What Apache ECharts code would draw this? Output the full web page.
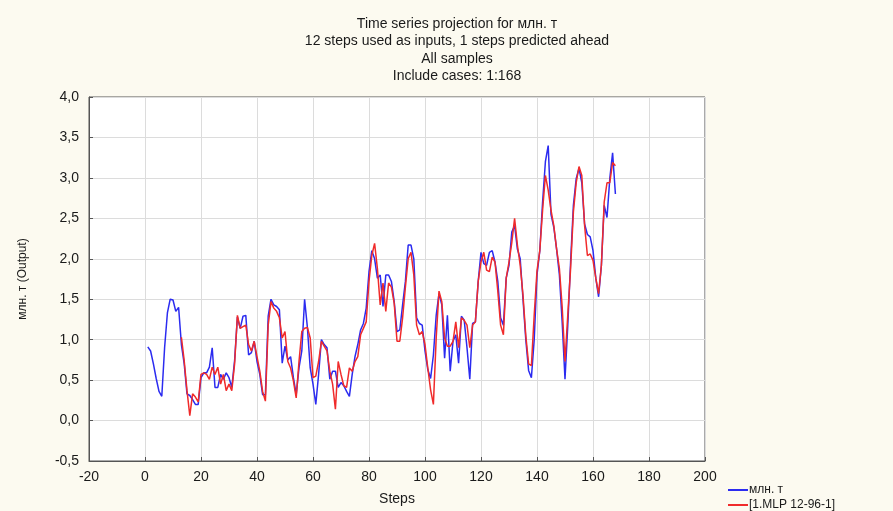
<!DOCTYPE html>
<html>
<head>
<meta charset="utf-8">
<script src="https://cdn.jsdelivr.net/npm/echarts@6/dist/echarts.min.js"></script>
<style>
html, body { margin: 0; padding: 0; background: #fcfaf0; }
#chart { width: 893px; height: 511px; }
</style>
</head>
<body>
<div id="chart"></div>
<script>
// фактические значения (шаги 1..168)
var actualStart = 1;
var actual = [
  0.91, 0.86, 0.70, 0.52, 0.36, 0.30, 0.90, 1.33, 1.50, 1.49,
  1.35, 1.40, 0.94, 0.70, 0.33, 0.31, 0.26, 0.20, 0.20, 0.53,
  0.59, 0.59, 0.66, 0.90, 0.41, 0.41, 0.57, 0.51, 0.59, 0.53,
  0.41, 0.74, 1.28, 1.14, 1.29, 1.30, 0.81, 0.84, 0.98, 0.73,
  0.57, 0.32, 0.32, 1.29, 1.50, 1.43, 1.41, 1.37, 0.71, 0.92,
  0.75, 0.79, 0.53, 0.32, 0.65, 0.86, 1.50, 1.15, 0.65, 0.45,
  0.20, 0.57, 1.00, 0.94, 0.90, 0.51, 0.61, 0.61, 0.41, 0.47,
  0.43, 0.36, 0.30, 0.57, 0.79, 0.94, 1.12, 1.20, 1.39, 1.84,
  2.10, 2.00, 1.76, 1.80, 1.41, 1.80, 1.80, 1.72, 1.47, 1.10,
  1.12, 1.43, 1.72, 2.17, 2.17, 2.00, 1.27, 1.20, 1.18, 0.86,
  0.63, 0.52, 0.81, 1.30, 1.57, 1.43, 0.77, 1.30, 0.61, 0.98,
  1.06, 0.71, 1.29, 1.24, 0.90, 0.51, 1.20, 1.22, 1.72, 2.08,
  1.94, 1.92, 2.08, 2.10, 1.96, 1.72, 1.27, 1.18, 1.76, 1.92,
  2.33, 2.41, 2.12, 2.00, 1.50, 1.00, 0.62, 0.53, 1.00, 1.80,
  2.10, 2.70, 3.20, 3.40, 2.55, 2.39, 2.12, 1.80, 1.21, 0.51,
  1.18, 1.96, 2.66, 2.99, 3.12, 2.94, 2.43, 2.30, 2.27, 2.10,
  1.76, 1.53, 1.92, 2.66, 2.51, 2.99, 3.31, 2.80
];
// прогноз сети (шаги 13..168)
var predStart = 13;
var predicted = [
  1.03, 0.74, 0.37, 0.06, 0.33, 0.29, 0.23, 0.57,
  0.59, 0.57, 0.51, 0.66, 0.57, 0.66, 0.45, 0.57, 0.37, 0.45,
  0.37, 0.70, 1.30, 1.14, 1.16, 1.18, 0.94, 0.86, 0.98, 0.79,
  0.61, 0.36, 0.24, 1.18, 1.47, 1.39, 1.35, 1.27, 1.02, 1.10,
  0.73, 0.65, 0.49, 0.28, 0.73, 1.10, 1.14, 1.15, 1.02, 0.53,
  0.55, 0.73, 0.98, 0.92, 0.86, 0.61, 0.45, 0.14, 0.73, 0.57,
  0.43, 0.41, 0.65, 0.61, 0.73, 0.79, 1.06, 1.14, 1.22, 1.72,
  2.04, 2.19, 1.88, 1.43, 1.70, 1.35, 1.70, 1.65, 1.45, 0.98,
  0.98, 1.27, 1.65, 2.00, 2.08, 1.80, 1.18, 1.06, 1.10, 0.94,
  0.65, 0.38, 0.20, 1.02, 1.60, 1.47, 1.02, 0.92, 0.92, 0.98,
  1.22, 0.90, 1.27, 1.24, 1.18, 0.90, 1.18, 1.22, 1.72, 1.96,
  2.08, 1.86, 1.84, 2.02, 1.96, 1.60, 1.18, 1.06, 1.76, 1.96,
  2.20, 2.50, 2.17, 1.92, 1.55, 1.05, 0.70, 0.68, 1.30, 1.85,
  2.10, 2.60, 3.03, 2.85, 2.60, 2.41, 2.12, 1.88, 1.40, 0.73,
  1.31, 1.88, 2.58, 2.94, 3.14, 3.03, 2.41, 2.04, 2.06, 1.98,
  1.76, 1.57, 1.92, 2.70, 2.94, 2.94, 3.19, 3.15
];
var seriesNames = ['млн. т', '[1.MLP 12-96-1]'];
var titleLines = [
  'Time series projection for млн. т',
  '12 steps used as inputs, 1 steps predicted ahead',
  'All samples',
  'Include cases: 1:168'
];

function toPairs(start, arr) {
  var out = [];
  for (var i = 0; i < arr.length; i++) {
    out.push([start + i, arr[i]]);
  }
  return out;
}

var myChart = echarts.init(document.getElementById('chart'), null, { renderer: 'canvas' });
var font = 'Liberation Sans, Arial, sans-serif';
var option = {
  backgroundColor: '#fcfaf0',
  animation: false,
  title: {
    text: titleLines.join('\n'),
    left: 452,
    top: 10,
    textAlign: 'center',
    textStyle: { fontFamily: font, fontSize: 14, fontWeight: 'normal', color: '#1a1a1a', lineHeight: 17.5 }
  },
  legend: {
    data: seriesNames,
    orient: 'vertical',
    left: 728,
    bottom: 0,
    padding: 0,
    itemWidth: 20,
    itemHeight: 2,
    itemGap: 3,
    icon: 'rect',
    textStyle: { fontFamily: font, fontSize: 12, color: '#1a1a1a', padding: [0, 0, 0, -4] }
  },
  grid: {
    left: 89,
    right: 188,
    top: 97,
    bottom: 48,
    show: true,
    backgroundColor: '#ffffff',
    borderColor: '#555555',
    borderWidth: 1
  },
  xAxis: {
    type: 'value',
    min: -20,
    max: 200,
    interval: 20,
    name: 'Steps',
    nameLocation: 'middle',
    nameGap: 31,
    nameTextStyle: { fontFamily: font, fontSize: 14, color: '#1a1a1a' },
    axisLine: { show: true, onZero: false, lineStyle: { color: '#555555' } },
    axisTick: { show: true, inside: true, length: 4, lineStyle: { color: '#555555' } },
    axisLabel: { fontFamily: font, fontSize: 14, color: '#1a1a1a', margin: 9 },
    splitLine: { show: true, lineStyle: { color: '#dcdcdc' } }
  },
  yAxis: {
    type: 'value',
    min: -0.5,
    max: 4,
    interval: 0.5,
    name: 'млн. т (Output)',
    nameLocation: 'middle',
    nameRotate: 90,
    nameGap: 60,
    nameTextStyle: { fontFamily: font, fontSize: 12, color: '#1a1a1a' },
    axisLine: { show: true, onZero: false, lineStyle: { color: '#555555' } },
    axisTick: { show: true, inside: true, length: 4, lineStyle: { color: '#555555' } },
    axisLabel: {
      fontFamily: font, fontSize: 14, color: '#1a1a1a', margin: 10,
      formatter: function (v) { return v.toFixed(1).replace('.', ','); }
    },
    splitLine: { show: true, lineStyle: { color: '#dcdcdc' } }
  },
  series: [
    {
      name: seriesNames[0],
      type: 'line',
      data: toPairs(actualStart, actual),
      symbol: 'none',
      lineStyle: { color: '#2b2bf0', width: 1.5 },
      itemStyle: { color: '#2b2bf0' }
    },
    {
      name: seriesNames[1],
      type: 'line',
      data: toPairs(predStart, predicted),
      symbol: 'none',
      lineStyle: { color: '#f02b2b', width: 1.5 },
      itemStyle: { color: '#f02b2b' }
    }
  ]
};
myChart.setOption(option);
</script>
</body>
</html>
